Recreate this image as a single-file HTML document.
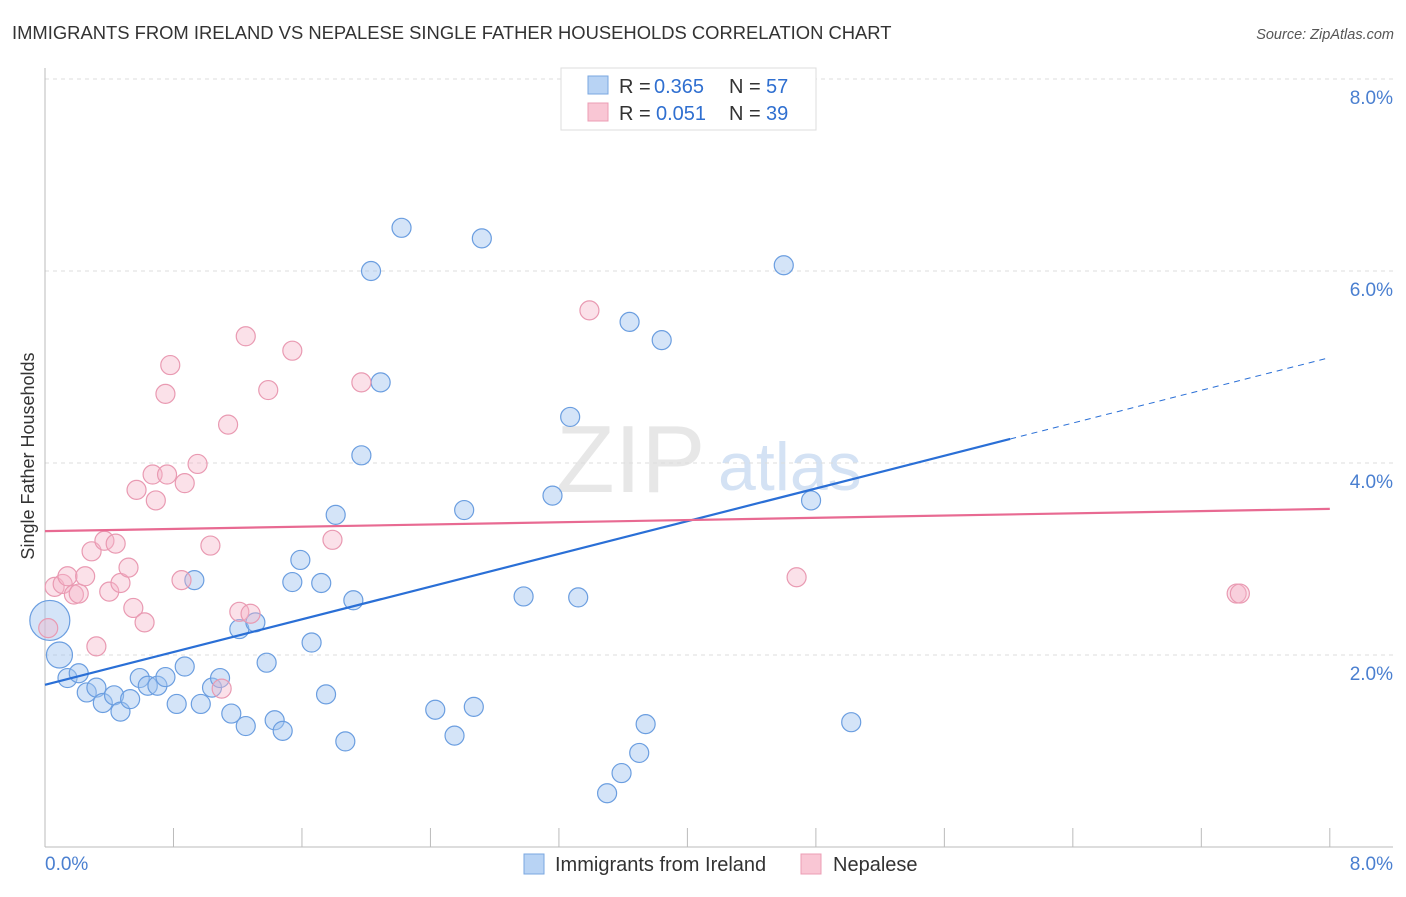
<!DOCTYPE html>
<html><head><meta charset="utf-8"><style>
body{margin:0;background:#fff;font-family:"Liberation Sans",sans-serif;}
svg text{font-family:"Liberation Sans",sans-serif;}
</style></head><body>
<svg id="chart" width="1406" height="892" viewBox="0 0 1406 892">
<text x="12" y="39" font-size="18.4" fill="#333">IMMIGRANTS FROM IRELAND VS NEPALESE SINGLE FATHER HOUSEHOLDS CORRELATION CHART</text>
<text x="1394" y="39" font-size="14.5" fill="#555" text-anchor="end" font-style="italic">Source: ZipAtlas.com</text>
<g>
<text x="556" y="492" font-size="96" fill="#d8d8d8" font-family="Liberation Serif" opacity="0.6">ZIP</text>
<text x="718" y="490" font-size="68" fill="#b8d0ee" opacity="0.6">atlas</text>
</g>
<g id="grid"></g><g id="axes"></g><g id="marks"></g><g id="lines"></g>
<text transform="translate(34,456) rotate(-90)" font-size="18" fill="#333" text-anchor="middle">Single Father Households</text>
<g>
<rect x="561" y="68" width="255" height="62" fill="#fff" stroke="#ddd"/>
<rect x="588" y="76" width="20" height="18" fill="#b8d3f4" stroke="#7aa7e0"/>
<rect x="588" y="103" width="20" height="18" fill="#f9c6d4" stroke="#ec9db4"/>
<text x="619" y="93" font-size="20" fill="#333">R =</text>
<text x="654" y="93" font-size="20" fill="#2f6fd0">0.365</text>
<text x="729" y="93" font-size="20" fill="#333">N =</text>
<text x="766" y="93" font-size="20" fill="#2f6fd0">57</text>
<text x="619" y="120" font-size="20" fill="#333">R =</text>
<text x="656" y="120" font-size="20" fill="#2f6fd0">0.051</text>
<text x="729" y="120" font-size="20" fill="#333">N =</text>
<text x="766" y="120" font-size="20" fill="#2f6fd0">39</text>
</g>
<g>
<rect x="524" y="854" width="20" height="20" fill="#b8d3f4" stroke="#7aa7e0"/>
<text x="555" y="871" font-size="20" fill="#333">Immigrants from Ireland</text>
<rect x="801" y="854" width="20" height="20" fill="#f9c6d4" stroke="#ec9db4"/>
<text x="833" y="871" font-size="20" fill="#333">Nepalese</text>
</g>
</svg>
<script>
const blueX=[0.03,0.09,0.14,0.21,0.26,0.32,0.36,0.43,0.47,0.53,0.59,0.64,0.70,0.75,0.82,0.87,0.93,0.97,1.04,1.09,1.16,1.21,1.25,1.31,1.38,1.43,1.48,1.54,1.59,1.66,1.72,1.75,1.81,1.87,1.92,1.97,2.03,2.09,2.22,2.43,2.55,2.61,2.67,2.72,2.98,3.16,3.27,3.32,3.50,3.59,3.64,3.70,3.74,3.84,4.60,4.77,5.02];
const blueY=[2.36,2.00,1.76,1.81,1.61,1.66,1.50,1.58,1.41,1.54,1.76,1.68,1.68,1.77,1.49,1.88,2.78,1.49,1.66,1.76,1.39,2.27,1.26,2.34,1.92,1.32,1.21,2.76,2.99,2.13,2.75,1.59,3.46,1.10,2.57,4.08,6.00,4.84,6.45,1.43,1.16,3.51,1.46,6.34,2.61,3.66,4.48,2.60,0.56,0.77,5.47,0.98,1.28,5.28,6.06,3.61,1.30];
const blueSize=[20,13];
const pinkX=[0.02,0.06,0.11,0.14,0.18,0.21,0.25,0.29,0.32,0.37,0.40,0.44,0.47,0.52,0.55,0.57,0.62,0.67,0.69,0.75,0.76,0.78,0.85,0.87,0.95,1.03,1.10,1.14,1.21,1.25,1.28,1.39,1.54,1.79,1.97,3.39,4.68,7.42,7.44];
const pinkY=[2.28,2.71,2.74,2.82,2.63,2.64,2.82,3.08,2.09,3.19,2.66,3.16,2.75,2.91,2.49,3.72,2.34,3.88,3.61,4.72,3.88,5.02,2.78,3.79,3.99,3.14,1.65,4.40,2.45,5.32,2.43,4.76,5.17,3.20,4.84,5.59,2.81,2.64,2.64];
const blueFit=[1.69,0.426];
const pinkFit=[3.29,0.029];
const yTicks=[2,4,6,8];
const yTickLabels=["2.0%","4.0%","6.0%","8.0%"];
const xTicks=[0,0.8,1.6,2.4,3.2,4.0,4.8,5.6,6.4,7.2,8.0];

const NS="http://www.w3.org/2000/svg";
const sx=v=>45+v*160.6, sy=v=>847-v*96;
function mk(p,t,a){const e=document.createElementNS(NS,t);for(const k in a)e.setAttribute(k,a[k]);p.appendChild(e);return e;}
const grid=document.getElementById('grid'),axes=document.getElementById('axes'),marks=document.getElementById('marks'),lines=document.getElementById('lines');
yTicks.forEach((v,i)=>{
 const g=mk(grid,'line',{x1:45,x2:1393,y1:sy(v),y2:sy(v),stroke:'#ddd','stroke-dasharray':'4,4'});
 
 
 const t=mk(axes,'text',{x:1393,y:sy(v)+25,'font-size':19,fill:'#4a7fd0','text-anchor':'end'});
 t.textContent=yTickLabels[i];
 
 
});
const ax=mk(axes,'line',{x1:45,x2:1393,y1:847,y2:847,stroke:'#bbb'});


const ay=mk(axes,'line',{x1:45,x2:45,y1:68,y2:847,stroke:'#bbb'});


xTicks.forEach(v=>{
 const t=mk(axes,'line',{x1:sx(v),x2:sx(v),y1:828,y2:847,stroke:'#bbb'});
 
 
});
[["0.0%",45,'start'],["8.0%",1393,'end']].forEach(d=>{
 const t=mk(axes,'text',{x:d[1],y:870,'font-size':19,fill:'#4a7fd0','text-anchor':d[2]});
 t.textContent=d[0];
 
 
});
blueX.forEach((v,i)=>{
 const c=mk(marks,'circle',{cx:sx(v),cy:sy(blueY[i]),r:blueSize[i]||9.5,fill:'rgba(160,196,240,0.45)',stroke:'#6b9ee0','stroke-width':1.2});
 
 
});
pinkX.forEach((v,i)=>{
 const c=mk(marks,'circle',{cx:sx(v),cy:sy(pinkY[i]),r:9.5,fill:'rgba(246,180,200,0.4)',stroke:'#e99ab2','stroke-width':1.2});
 
 
});
const bl=mk(lines,'line',{x1:sx(0),y1:sy(blueFit[0]),x2:sx(6.01),y2:sy(blueFit[0]+blueFit[1]*6.01),stroke:'#2a6fd6','stroke-width':2.2});


const bd=mk(lines,'line',{x1:sx(6.01),y1:sy(blueFit[0]+blueFit[1]*6.01),x2:sx(8),y2:sy(blueFit[0]+blueFit[1]*8),stroke:'#2a6fd6','stroke-width':1,'stroke-dasharray':'6,5'});


const pl=mk(lines,'line',{x1:sx(0),y1:sy(pinkFit[0]),x2:sx(8),y2:sy(pinkFit[0]+pinkFit[1]*8),stroke:'#e86a92','stroke-width':2.2});


</script>
</body></html>
